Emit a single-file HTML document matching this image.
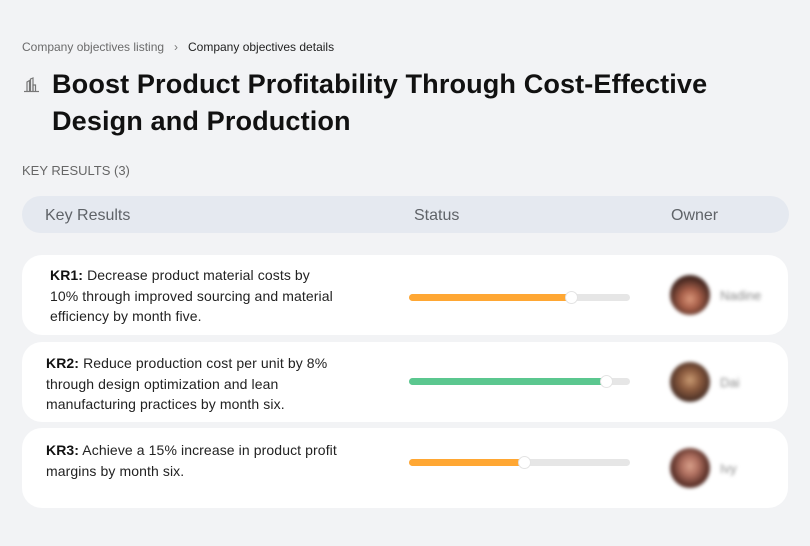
<!DOCTYPE html>
<html>
<head>
<meta charset="utf-8">
<style>
  html, body { margin:0; padding:0; }
  body { width:810px; height:546px; background:#F2F3F5; position:relative; overflow:hidden;
         font-family:"Liberation Sans", sans-serif; color:#1a1a1a; }
  .abs { position:absolute; white-space:nowrap; }
  .bc { font-size:12px; top:40px; }
  .title { left:52px; font-size:27.1px; font-weight:bold; color:#111; letter-spacing:0.1px; }
  .kr-count { left:22px; top:163px; font-size:13px; color:#666; }
  .hdr { position:absolute; left:22px; top:196px; width:767px; height:37px; background:#E5E9F0; border-radius:19px; }
  .hl { position:absolute; top:207px; font-size:16px; color:#5f6368; }
  .card { position:absolute; left:22px; width:766px; height:80px; background:#fff; border-radius:20px; }
  .txt { position:absolute; font-size:14px; letter-spacing:0.1px; line-height:20.5px; color:#222; white-space:nowrap; }
  .txt b { color:#111; }
  .track { position:absolute; left:409px; width:221px; height:7px; background:#E6E6E6; border-radius:4px; }
  .fill { position:absolute; left:0; top:0; height:7px; border-radius:4px; }
  .knob { position:absolute; background:#fff; border-radius:50%; border:1px solid #e3e3e3; top:-3.5px; box-sizing:border-box; width:13px; height:13px; }
  .av { position:absolute; left:670px; width:40px; height:40px; border-radius:50%; filter:blur(1.8px); }
  .nm { position:absolute; left:720px; font-size:13px; color:#8a8a8a; filter:blur(1.8px); }
</style>
</head>
<body>
  <div class="abs bc" style="left:22px;color:#6b6b6b;">Company objectives listing</div>
  <div class="abs bc" style="left:174px;color:#777;">&#8250;</div>
  <div class="abs bc" style="left:188px;color:#222;">Company objectives details</div>

  <!-- icon -->
  <svg class="abs" style="left:23px;top:76px;" width="17" height="17" viewBox="0 0 17 17">
    <g fill="none" stroke="#777" stroke-width="1.2">
      <path d="M4 15 V6 L6.5 4.5 V15"/>
      <path d="M7.5 15 V3 L10 2 V15"/>
      <path d="M10 15 V9 H12.5 V15"/>
      <path d="M1 15.5 H16"/>
    </g>
  </svg>

  <div class="abs title" style="top:68px;">Boost Product Profitability Through Cost-Effective</div>
  <div class="abs title" style="top:105px;">Design and Production</div>

  <div class="abs kr-count">KEY RESULTS (3)</div>

  <div class="hdr"></div>
  <div class="hl" style="left:45px;">Key Results</div>
  <div class="hl" style="left:414px;">Status</div>
  <div class="hl" style="left:671px;">Owner</div>

  <!-- Card 1 -->
  <div class="card" style="top:255px;"></div>
  <div class="txt" style="left:50px;top:265px;"><b>KR1:</b> Decrease product material costs by<br>10% through improved sourcing and material<br>efficiency by month five.</div>
  <div class="track" style="top:294px;"><div class="fill" style="width:163px;background:#FFA733;"></div><div class="knob" style="left:156px;"></div></div>
  <div class="av" style="top:275px;background:radial-gradient(circle at 50% 60%, #d9967a 0%, #a8604a 30%, #4a2a22 65%, #2a1a18 100%);"></div>
  <div class="nm" style="top:288px;">Nadine</div>

  <!-- Card 2 -->
  <div class="card" style="top:342px;"></div>
  <div class="txt" style="left:46px;top:353px;"><b>KR2:</b> Reduce production cost per unit by 8%<br>through design optimization and lean<br>manufacturing practices by month six.</div>
  <div class="track" style="top:378px;"><div class="fill" style="width:198px;background:#5BC78F;"></div><div class="knob" style="left:191px;"></div></div>
  <div class="av" style="top:362px;background:radial-gradient(circle at 50% 45%, #c89a72 0%, #8a5a3e 35%, #4a3026 70%, #3a2a24 100%);"></div>
  <div class="nm" style="top:375px;">Dai</div>

  <!-- Card 3 -->
  <div class="card" style="top:428px;"></div>
  <div class="txt" style="left:46px;top:440px;"><b>KR3:</b> Achieve a 15% increase in product profit<br>margins by month six.</div>
  <div class="track" style="top:459px;"><div class="fill" style="width:116px;background:#FFA733;"></div><div class="knob" style="left:109px;"></div></div>
  <div class="av" style="top:448px;background:radial-gradient(ellipse at 50% 45%, #d8a08a 0%, #b07060 30%, #5a3028 65%, #3a2420 100%);"></div>
  <div class="nm" style="top:461px;">Ivy</div>
</body>
</html>
